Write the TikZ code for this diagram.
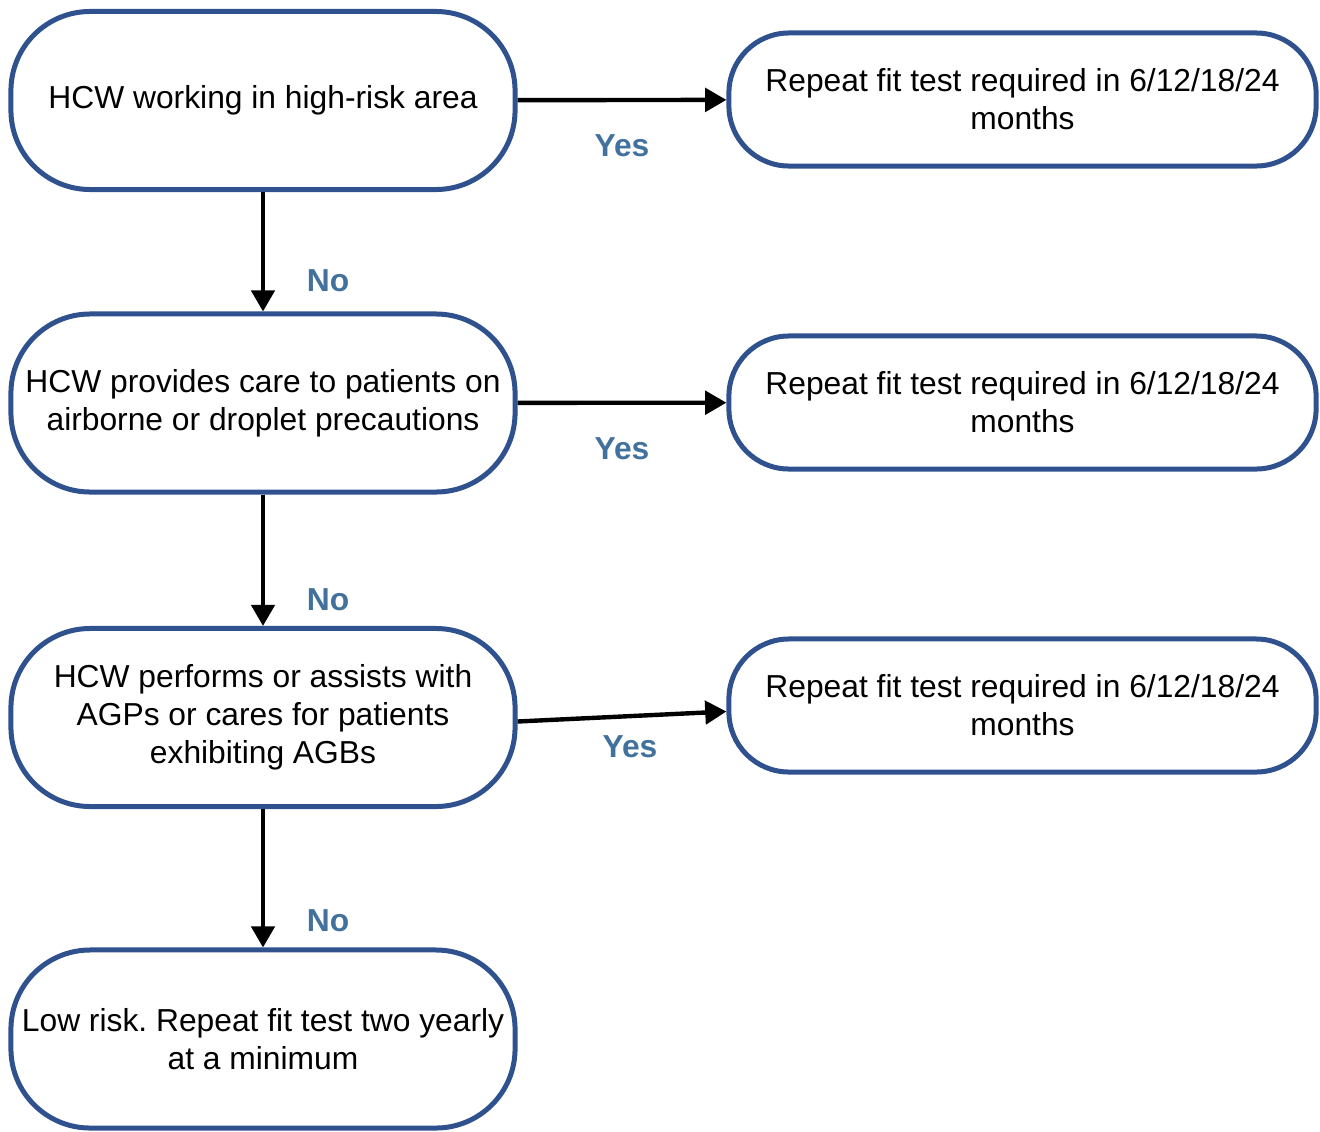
\documentclass[tikz,border=0pt]{standalone}
\usepackage{fontspec}
\setmainfont{Liberation Sans}
\frenchspacing
\usetikzlibrary{calc,arrows.meta}

\definecolor{boxblue}{RGB}{47,82,143}
\definecolor{lblblue}{RGB}{65,113,156}

\begin{document}
\begin{tikzpicture}[x=0.025cm, y=-0.025cm,
    qbox/.style={draw=boxblue, line width=0.125cm, rounded corners=1.98cm,
      minimum width=12.6cm, minimum height=4.45cm, inner sep=0pt,
      align=center, font=\fontsize{22.6pt}{27pt}\selectfont},
    rbox/.style={qbox, rounded corners=1.5cm,
      minimum width=14.675cm, minimum height=3.325cm},
    lbl/.style={text=lblblue, font=\fontsize{22.6pt}{27pt}\selectfont\bfseries},
    flow/.style={-{Triangle[length=0.53cm,width=0.58cm]}, line width=0.11cm}]

  \useasboundingbox (0,0) rectangle (1320,1131);

  \node[qbox] (hcwarea) at (263,100.5) {HCW working in high-risk area};
  \node[qbox] (hcwcare) at (263,403) {HCW provides care to patients on\\airborne or droplet precautions};
  \node[qbox] (hcwagp) at (263,717.5) {HCW performs or assists with\\AGPs or cares for patients\\exhibiting AGBs};
  \node[qbox] (lowrisk) at (263,1039) {Low risk. Repeat fit test two yearly\\at a minimum};

  \node[rbox] (rep1) at (1022.5,99.5) {Repeat fit test required in 6/12/18/24\\months};
  \node[rbox] (rep2) at (1022.5,402.5) {Repeat fit test required in 6/12/18/24\\months};
  \node[rbox] (rep3) at (1022.5,705.5) {Repeat fit test required in 6/12/18/24\\months};

  \draw[flow] (hcwarea) -- (rep1);
  \draw[flow] (hcwcare) -- (rep2);
  \draw[flow] ([yshift=-0.1cm]hcwagp.east) -- ([yshift=-0.15cm]rep3.west);

  \draw[flow] (hcwarea) -- (hcwcare);
  \draw[flow] (hcwcare) -- (hcwagp);
  \draw[flow] (hcwagp) -- (lowrisk);

  \node[lbl] (yes1) at ($.5*(hcwarea.east) + .5*(rep1.west) + (0,46)$) {Yes};
  \node[lbl] (yes2) at ($.5*(hcwcare.east) + .5*(rep2.west) + (0,46)$) {Yes};
  \node[lbl] (yes3) at ($.5*(hcwagp.east) + .5*(rep3.west) + (8,35)$) {Yes};

  \node[lbl] (no1) at ($(hcwcare.north) + (65,-31)$) {No};
  \node[lbl] (no2) at ($(hcwagp.north) + (65,-26)$) {No};
  \node[lbl] (no3) at ($(lowrisk.north) + (65,-27)$) {No};

\end{tikzpicture}
\end{document}
